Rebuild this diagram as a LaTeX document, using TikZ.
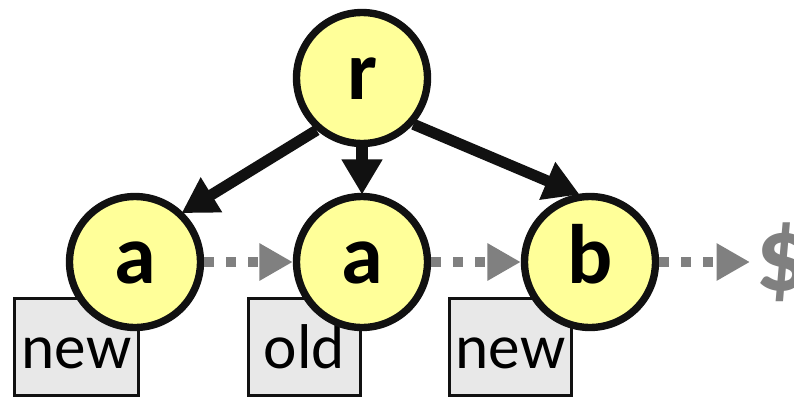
\documentclass[tikz,border=0pt]{standalone}
\usepackage{fontspec}
\setmainfont{Carlito}
\usetikzlibrary{arrows.meta}
\definecolor{nodeyellow}{HTML}{FFFF99}
\definecolor{boxgray}{HTML}{E8E8E8}
\definecolor{linkgray}{HTML}{808080}
\definecolor{inkblack}{HTML}{111111}

\begin{document}
\begin{tikzpicture}[x=0.02cm, y=-0.02cm,
  trienode/.style={draw=inkblack, fill=nodeyellow, circle, line width=4.2pt, minimum size=2.62cm, inner sep=0pt,
    font=\fontsize{48}{48}\selectfont\bfseries, text height=25pt, text depth=0pt},
  tagbox/.style={draw=inkblack, fill=boxgray, rectangle, line width=1.7pt, minimum height=1.94cm, inner sep=0pt,
    font=\fontsize{36}{36}\selectfont, text height=25pt, text depth=0pt},
  child/.style={-{Triangle[length=20pt,width=22pt]}, line width=6.3pt, draw=inkblack, shorten >=-1pt},
  link/.style={-{Triangle[length=19pt,width=20pt]}, line width=6pt, draw=linkgray, dash pattern=on 5.7pt off 6.8pt}]
\clip (0,0) rectangle (794,399);

% Caixas
\node[tagbox, minimum width=2.48cm] (tagA) at (76.5,347) {new};
\node[tagbox, minimum width=2.24cm] (tagB) at (304.5,347) {old};
\node[tagbox, minimum width=2.44cm] (tagC) at (510.5,347) {new};

% Nos
\node[trienode] (r) at (362,78) {r};
\node[trienode] (a1) at (135,262) {a};
\node[trienode] (a2) at (362,262) {a};
\node[trienode] (b) at (590,262) {b};
\node[font=\fontsize{60}{60}\selectfont\bfseries, text=linkgray, anchor=west, inner sep=3pt] (dollar) at (750,262) {\$};

% Filhos
\draw[child] (r.-131) -- (a1.46);
\draw[child] (r.south) -- (a2.north);
\draw[child] (r.-42) -- (b.100);

% Lista
\draw[link] (a1) -- (a2);
\draw[link] (a2) -- (b);
\draw[link] (b) -- (dollar);
\end{tikzpicture}
\end{document}
